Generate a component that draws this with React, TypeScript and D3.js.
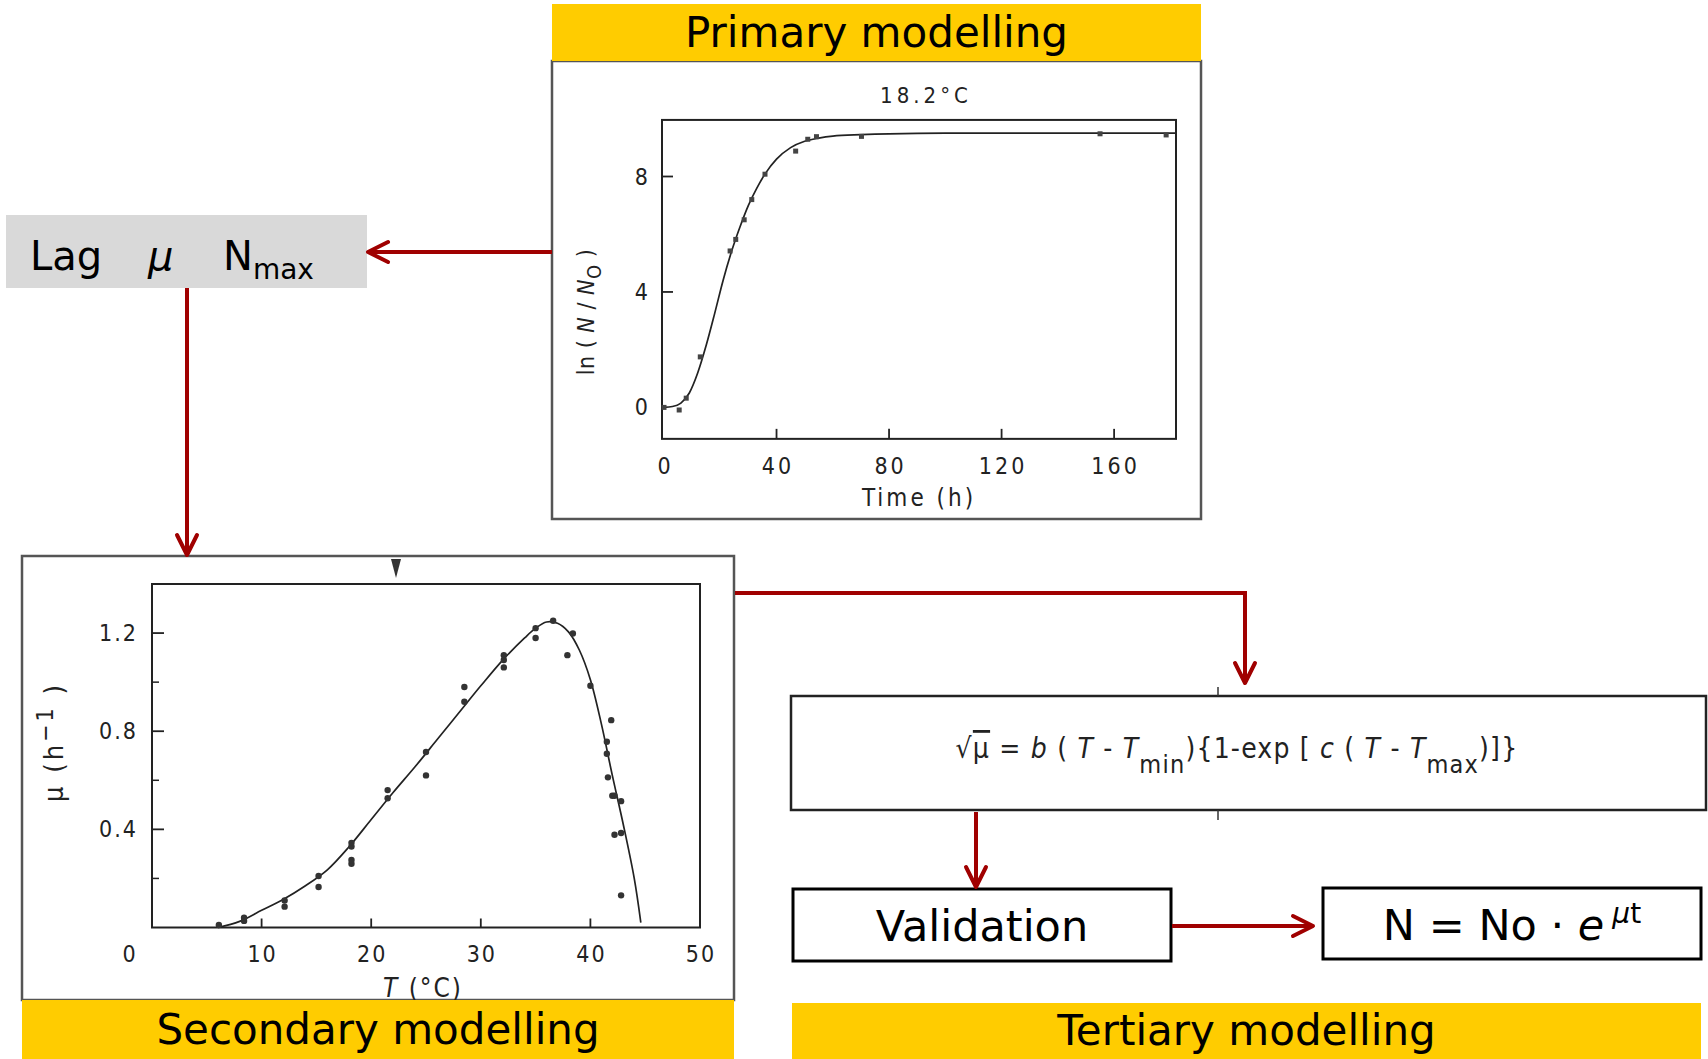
import React from 'react';
import * as d3 from 'd3';

// Primary modelling: growth curve at 18.2°C
const growthTime = [0, 5.4, 7.9, 12.9, 23.5, 25.5, 28.5, 31.2, 35.9, 46.8, 51.1, 54.2, 70.2, 155, 178.5];
const growthLn = [0, -0.09, 0.32, 1.75, 5.42, 5.82, 6.5, 7.2, 8.08, 8.88, 9.29, 9.38, 9.39, 9.48, 9.44];
const growthFitTime = [0, 3, 6, 9, 12, 15, 18, 21, 24, 27, 30, 33, 36, 40, 45, 50, 55, 60, 70, 80, 100, 140, 182];
const growthFitLn = [0, 0.03, 0.15, 0.5, 1.2, 2.15, 3.25, 4.4, 5.4, 6.25, 7.0, 7.6, 8.1, 8.6, 9.0, 9.22, 9.33, 9.4, 9.45, 9.48, 9.5, 9.5, 9.5];
const growthXTicks = [0, 40, 80, 120, 160];
const growthYTicks = [0, 4, 8];

// Secondary modelling: growth rate vs temperature
const tempT = [6.1, 8.4, 8.4, 12.1, 12.1, 15.2, 15.2, 18.2, 18.2, 18.2, 18.2, 21.5, 21.5, 25.0, 25.0, 28.5, 28.5,
  32.1, 32.1, 32.1, 35.0, 35.0, 36.6, 38.4, 37.9, 40.0, 41.9, 41.5, 41.5, 41.6, 42.0, 42.2, 42.8, 42.2, 42.8, 42.8];
const tempMu = [0.01, 0.027, 0.04, 0.085, 0.11, 0.165, 0.21, 0.26, 0.275, 0.33, 0.345, 0.527, 0.56, 0.62, 0.715, 0.92, 0.98,
  1.06, 1.09, 1.11, 1.18, 1.22, 1.25, 1.198, 1.11, 0.985, 0.845, 0.757, 0.708, 0.612, 0.537, 0.537, 0.515, 0.378, 0.385, 0.131];
const tempFitT = [6, 8, 10, 12, 14, 16, 18, 20, 22, 24, 26, 28, 30, 32, 34, 35, 36, 37, 38, 39, 40, 41, 42, 43, 44, 44.6];
const tempFitMu = [0, 0.025, 0.07, 0.115, 0.17, 0.235, 0.33, 0.44, 0.55, 0.655, 0.765, 0.875, 0.985, 1.09, 1.18, 1.22, 1.245, 1.24, 1.205, 1.13, 1.01, 0.83, 0.62, 0.42, 0.2, 0.02];
const tempXTicks = [0, 10, 20, 30, 40, 50];
const tempYTicks = [0.4, 0.8, 1.2];
const tempYMinor = [0.2, 0.6, 1.0];

const RED = '#a00000';
const YELLOW = '#ffcc00';
const SANS = "'DejaVu Sans', Verdana, sans-serif";
const SCAN = "'DejaVu Sans Condensed', 'Liberation Sans Narrow', 'DejaVu Sans', sans-serif";

function Arrow({ points }: { points: [number, number][] }) {
  const [x1, y1] = points[points.length - 2];
  const [x2, y2] = points[points.length - 1];
  const a = Math.atan2(y2 - y1, x2 - x1);
  const L = 20, W = 10;
  const bx = x2 - L * Math.cos(a), by = y2 - L * Math.sin(a);
  const px = -Math.sin(a) * W, py = Math.cos(a) * W;
  const head: [number, number][] = [[bx + px, by + py], [x2, y2], [bx - px, by - py]];
  return (
    <g fill="none" stroke={RED} strokeWidth={4}>
      <path d={d3.line()(points) ?? ''} />
      <path d={d3.line()(head) ?? ''} strokeLinecap="round" strokeLinejoin="round" />
    </g>
  );
}

function Banner({ x, y, w, h, label }: { x: number; y: number; w: number; h: number; label: string }) {
  return (
    <g>
      <rect x={x} y={y} width={w} height={h} fill={YELLOW} />
      <text x={x + w / 2} y={y + h / 2 + 14} textAnchor="middle" fontFamily={SANS} fontSize={42} fill="#000">{label}</text>
    </g>
  );
}

function PrimaryChart() {
  const x = d3.scaleLinear().domain([0, 182]).range([664, 1176]);
  const y = d3.scaleLinear().domain([0, 8]).range([407.4, 176.5]);
  const top = y(9.96), bottom = y(-1.09);
  const fit = d3.line<number>().x((d) => x(d)).y((_, i) => y(growthFitLn[i])).curve(d3.curveMonotoneX);
  return (
    <g fontFamily={SCAN} fill="#222">
      <rect x={552} y={61} width={649} height={458} fill="#fff" stroke="#555" strokeWidth={2.5} />
      <text x={926} y={103} textAnchor="middle" fontSize={22} letterSpacing={4}>18.2°C</text>
      <rect x={x(0) - 2} y={top} width={x(182) - x(0) + 2} height={bottom - top} fill="none" stroke="#222" strokeWidth={2} />
      {growthXTicks.filter((t) => t > 0).map((t) => (
        <line key={t} x1={x(t)} x2={x(t)} y1={bottom} y2={bottom - 10} stroke="#222" strokeWidth={1.8} />
      ))}
      {growthXTicks.map((t) => (
        <text key={t} x={x(t) + 1.5} y={474} textAnchor="middle" fontSize={23} letterSpacing={3}>{t}</text>
      ))}
      {growthYTicks.filter((t) => t > 0).map((t) => (
        <line key={t} x1={x(0) - 2} x2={x(0) + 9} y1={y(t)} y2={y(t)} stroke="#222" strokeWidth={1.8} />
      ))}
      {growthYTicks.map((t) => (
        <text key={t} x={648} y={y(t) + 8} textAnchor="end" fontSize={23}>{t}</text>
      ))}
      <text x={919} y={506} textAnchor="middle" fontSize={24} letterSpacing={3}>Time (h)</text>
      <text transform="translate(594,312) rotate(-90)" textAnchor="middle" fontSize={23} letterSpacing={0.5}>
        ln ( <tspan fontStyle="italic">N</tspan> / <tspan fontStyle="italic">N</tspan>
        <tspan dy={7} fontSize={20}>O</tspan><tspan dy={-7}> )</tspan>
      </text>
      <path d={fit(growthFitTime) ?? ''} fill="none" stroke="#222" strokeWidth={1.7} />
      {growthTime.map((t, i) => (
        <rect key={i} x={x(t) - 2.5} y={y(growthLn[i]) - 2.5} width={5} height={5} fill="#444" />
      ))}
    </g>
  );
}

function SecondaryChart() {
  const x = d3.scaleLinear().domain([0, 50]).range([152, 700]);
  const y = d3.scaleLinear().domain([0, 1.4]).range([927.5, 584]);
  const fit = d3.line<number>().x((d) => x(d)).y((_, i) => y(tempFitMu[i])).curve(d3.curveCatmullRom);
  return (
    <g fontFamily={SCAN} fill="#222">
      <rect x={22} y={556} width={712} height={444} fill="#fff" stroke="#555" strokeWidth={2.5} />
      <path d={d3.line()([[391, 559], [401, 559], [396, 578]]) + 'Z'} fill="#333" />
      <rect x={x(0)} y={y(1.4)} width={x(50) - x(0)} height={y(0) - y(1.4)} fill="none" stroke="#222" strokeWidth={2} />
      {tempXTicks.filter((t) => t > 0 && t < 50).map((t) => (
        <line key={t} x1={x(t)} x2={x(t)} y1={y(0)} y2={y(0) - 9} stroke="#222" strokeWidth={1.8} />
      ))}
      {tempXTicks.map((t) => (
        <text key={t} x={x(t) + (t === 0 ? -22 : 1)} y={962} textAnchor="middle" fontSize={23} letterSpacing={2}>{t}</text>
      ))}
      {tempYTicks.map((t) => (
        <line key={t} x1={x(0)} x2={x(0) + 12} y1={y(t)} y2={y(t)} stroke="#222" strokeWidth={1.8} />
      ))}
      {tempYMinor.map((t) => (
        <line key={t} x1={x(0)} x2={x(0) + 7} y1={y(t)} y2={y(t)} stroke="#222" strokeWidth={1.5} />
      ))}
      {tempYTicks.map((t) => (
        <text key={t} x={138} y={y(t) + 8} textAnchor="end" fontSize={23} letterSpacing={2}>{t.toFixed(1)}</text>
      ))}
      <text x={423} y={997} textAnchor="middle" fontSize={26} letterSpacing={2}>
        <tspan fontStyle="italic">T</tspan> (°C)
      </text>
      <text transform="translate(63,742) rotate(-90)" textAnchor="middle" fontSize={27} letterSpacing={3}>
        μ (h<tspan dy={-10} fontSize={23}>−1</tspan><tspan dy={10}> )</tspan>
      </text>
      <path d={fit(tempFitT) ?? ''} fill="none" stroke="#222" strokeWidth={1.7} />
      {tempT.map((t, i) => (
        <circle key={i} cx={x(t)} cy={y(tempMu[i])} r={3.2} fill="#333" />
      ))}
    </g>
  );
}

function Tertiary() {
  return (
    <g>
      <rect x={791} y={696} width={915} height={114} fill="#fff" stroke="#222" strokeWidth={2.5} />
      <line x1={1218} x2={1218} y1={687} y2={696} stroke="#333" strokeWidth={1.5} />
      <line x1={1218} x2={1218} y1={810} y2={820} stroke="#333" strokeWidth={1.5} />
      <text x={1237} y={758} textAnchor="middle" fontFamily={SCAN} fontSize={28} letterSpacing={1.2} fill="#222">
        √<tspan textDecoration="overline">μ</tspan> = <tspan fontStyle="italic">b</tspan> ( <tspan fontStyle="italic">T</tspan> - <tspan fontStyle="italic">T</tspan>
        <tspan dy={15} fontSize={25}>min</tspan><tspan dy={-15}>){'{'}1-exp [ </tspan><tspan fontStyle="italic">c</tspan> ( <tspan fontStyle="italic">T</tspan> - <tspan fontStyle="italic">T</tspan>
        <tspan dy={15} fontSize={25}>max</tspan><tspan dy={-15}>)]{'}'}</tspan>
      </text>
      <rect x={793} y={889} width={378} height={72} fill="#fff" stroke="#000" strokeWidth={3} />
      <text x={982} y={941} textAnchor="middle" fontFamily={SANS} fontSize={43}>Validation</text>
      <rect x={1323} y={888} width={378} height={71} fill="#fff" stroke="#000" strokeWidth={3} />
      <text x={1512} y={940} textAnchor="middle" fontFamily={SANS} fontSize={43}>
        N = No · <tspan fontStyle="italic">e</tspan>
        <tspan dx={8} dy={-17} fontSize={28}><tspan fontStyle="italic">μ</tspan>t</tspan>
      </text>
    </g>
  );
}

export default function App() {
  return (
    <svg width={1708} height={1059} viewBox="0 0 1708 1059"
      style={{ position: 'absolute', left: 0, top: 0, display: 'block', background: '#fff' }}>
      <rect width={1708} height={1059} fill="#fff" />
      <PrimaryChart />
      <Banner x={552} y={4} w={649} h={57} label="Primary modelling" />

      <rect x={6} y={215} width={361} height={73} fill="#d9d9d9" />
      <text x={30} y={270} fontFamily={SANS} fontSize={40} fill="#000">Lag</text>
      <text x={148} y={270} fontFamily={SANS} fontSize={40} fontStyle="italic" fill="#000">μ</text>
      <text x={223} y={270} fontFamily={SANS} fontSize={40} fill="#000">
        N<tspan dy={9} fontSize={28}>max</tspan>
      </text>

      <SecondaryChart />
      <Banner x={22} y={1000} w={712} h={59} label="Secondary modelling" />
      <Banner x={792} y={1003} w={909} h={56} label="Tertiary modelling" />
      <Tertiary />

      <Arrow points={[[552, 252], [368, 252]]} />
      <Arrow points={[[187, 288], [187, 555]]} />
      <Arrow points={[[735, 593], [1245, 593], [1245, 683]]} />
      <Arrow points={[[976, 812], [976, 887]]} />
      <Arrow points={[[1172, 926], [1313, 926]]} />
    </svg>
  );
}
